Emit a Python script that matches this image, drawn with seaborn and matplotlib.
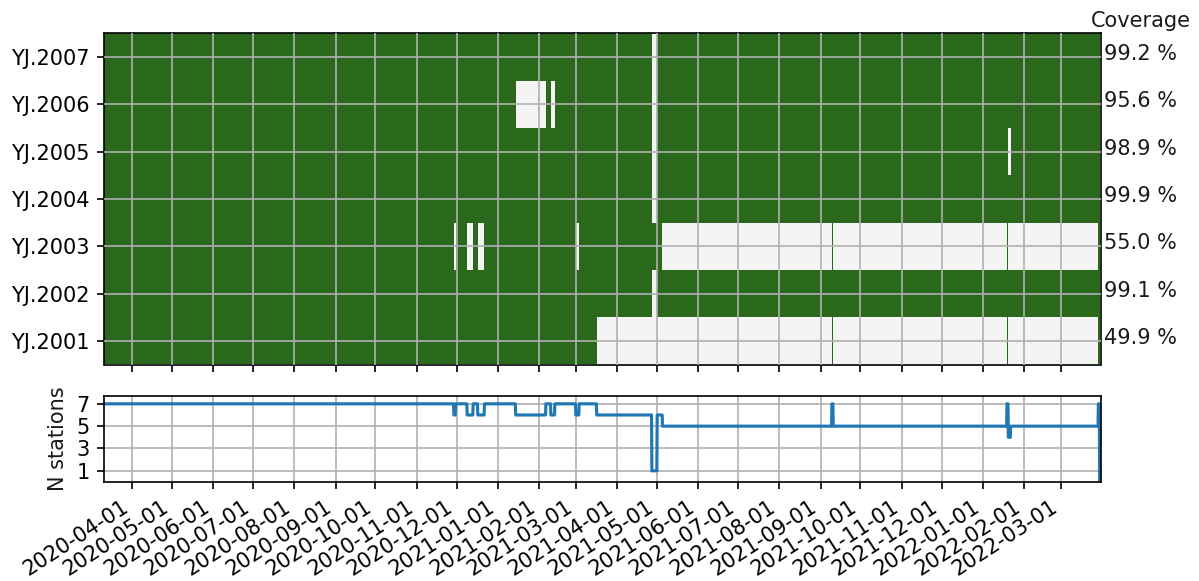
import numpy as np
import pandas as pd
import matplotlib
matplotlib.use("Agg")
import matplotlib.pyplot as plt
import matplotlib.dates as mdates
from matplotlib.colors import ListedColormap
import seaborn as sns

# ---- data -------------------------------------------------------------
stations = ["YJ.2001", "YJ.2002", "YJ.2003", "YJ.2004", "YJ.2005", "YJ.2006", "YJ.2007"]
coverage = [49.9, 99.1, 55.0, 99.9, 98.9, 95.6, 99.2]

period_start = "2020-03-11"
period_end = "2022-03-31"

# last day of the archive is empty for every station
final_gap = [("2022-03-30", "2022-03-31")]

gaps_2001 = [("2021-03-16 10:00", "2021-09-09 12:00"),
             ("2021-09-10 12:00", "2022-01-19 06:00"),
             ("2022-01-20 06:00", "2022-03-29")]
gaps_2002 = [("2021-04-27", "2021-05-01")]
gaps_2003 = [("2020-11-29", "2020-11-30 06:00"),
             ("2020-12-09", "2020-12-13 12:00"),
             ("2020-12-17", "2020-12-22"),
             ("2021-02-28 18:00", "2021-03-03 06:00"),
             ("2021-05-05", "2021-09-09 12:00"),
             ("2021-09-10 12:00", "2022-01-19 06:00"),
             ("2022-01-20 06:00", "2022-03-29")]
gaps_2004 = [("2021-04-27", "2021-05-01")]
gaps_2005 = [("2021-04-27", "2021-05-01"),
             ("2022-01-20 06:00", "2022-01-22")]
gaps_2006 = [("2021-01-14 12:00", "2021-02-06 06:00"),
             ("2021-02-10", "2021-02-13"),
             ("2021-04-27", "2021-05-01")]
gaps_2007 = [("2021-04-27", "2021-05-01")]

station_gaps = [gaps_2001, gaps_2002, gaps_2003, gaps_2004,
                gaps_2005, gaps_2006, gaps_2007]

# ---- availability matrix (6-hour bins) -------------------------------
edges = pd.date_range(period_start, period_end, freq="6h")
starts = edges[:-1]
avail = np.ones((len(stations), len(starts)))
for i, g in enumerate(station_gaps):
    for a, b in g + final_gap:
        avail[i, (starts >= pd.Timestamp(a)) & (starts < pd.Timestamp(b))] = 0
n_stations = avail.sum(axis=0)

# ---- style ------------------------------------------------------------
sns.set_style("ticks", {"axes.edgecolor": "black",
                        "xtick.color": "black", "ytick.color": "black",
                        "text.color": "#1a1a1a", "axes.labelcolor": "#1a1a1a"})
plt.rcParams["font.family"] = ["DejaVu Sans"]
plt.rcParams["font.size"] = 10
plt.rcParams["xtick.labelsize"] = 10
plt.rcParams["ytick.labelsize"] = 10
plt.rcParams["axes.linewidth"] = 0.8

green = "#2a681b"
light = "#f4f4f4"
grid_kw = dict(color="#b0b0b0", linewidth=0.8)

W, H = 1199, 581
fig = plt.figure(figsize=(W / 150, H / 150), dpi=150)
left, right = 104.4 / W, 1101 / W
ax = fig.add_axes([left, 1 - 364.5 / H, right - left, (364.5 - 33.3) / H])
ax2 = fig.add_axes([left, 1 - 482 / H, right - left, (482 - 396) / H], sharex=ax)

# availability heatmap
y_edges = np.arange(len(stations) + 1) - 0.5
ax.pcolormesh(edges.values, y_edges, avail,
              cmap=ListedColormap([light, green]), vmin=0, vmax=1)
ax.set_ylim(-0.5, len(stations) - 0.5)
ax.set_yticks(range(len(stations)))
ax.set_yticklabels(stations)
ax.set_axisbelow(False)
ax.grid(True, **grid_kw)
ax.tick_params(axis="x", labelbottom=False)
for i, c in enumerate(coverage):
    ax.text(1.003, i + 0.06, f"{c:.1f} %", transform=ax.get_yaxis_transform(),
            ha="left", va="center", fontsize=10)
ax.annotate("Coverage", xy=(1, 1), xycoords="axes fraction",
            xytext=(19, 3.2), textcoords="offset points",
            ha="center", va="baseline", fontsize=10)

# number of stations with data
sns.lineplot(x=starts, y=n_stations, ax=ax2, color="#1f77b4",
             linewidth=1.5, estimator=None)
ax2.set_ylim(0, 7.7)
ax2.set_yticks([1, 3, 5, 7])
ax2.set_ylabel("N stations")
ax2.set_xlabel("")
ax2.grid(True, **grid_kw)

ax2.set_xlim(pd.Timestamp(period_start), pd.Timestamp(period_end))
ax2.xaxis.set_major_locator(mdates.MonthLocator())
ax2.xaxis.set_major_formatter(mdates.DateFormatter("%Y-%m-%d"))
for lbl in ax2.get_xticklabels():
    lbl.set_rotation(33)
    lbl.set_ha("right")

fig.savefig("out.png", dpi=150)
